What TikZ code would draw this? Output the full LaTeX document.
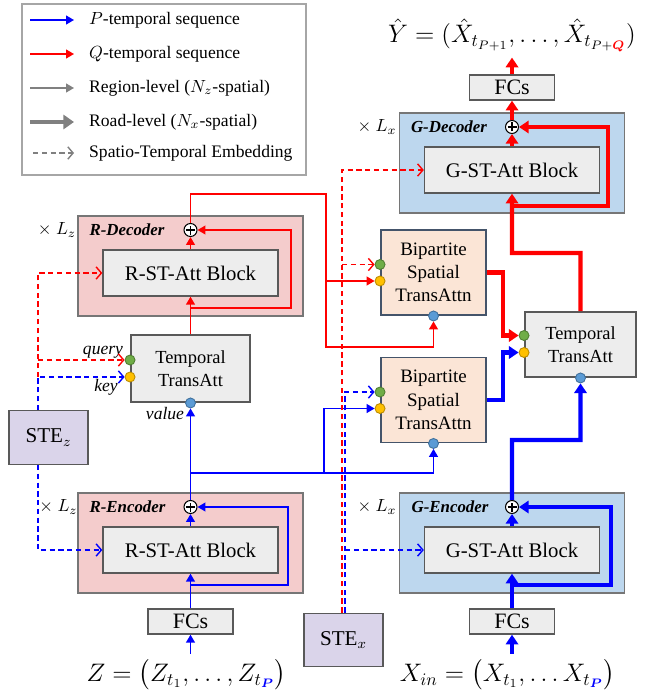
\documentclass[tikz,border=0pt]{standalone}
\usepackage{amsmath}
\usepackage{fontspec}
\setmainfont{Liberation Serif}
\usetikzlibrary{arrows.meta,positioning}

\definecolor{rfill}{RGB}{244,204,204}
\definecolor{gfill}{RGB}{189,215,238}
\definecolor{boxline}{RGB}{118,118,118}
\definecolor{blkfill}{RGB}{237,237,237}
\definecolor{blkline}{RGB}{89,89,89}
\definecolor{bipfill}{RGB}{251,229,214}
\definecolor{bipline}{RGB}{68,84,106}
\definecolor{stefill}{RGB}{218,212,234}
\definecolor{qgreen}{RGB}{112,173,71}
\definecolor{qgreenline}{RGB}{80,126,50}
\definecolor{kyellow}{RGB}{255,192,0}
\definecolor{kyellowline}{RGB}{188,140,0}
\definecolor{vblue}{RGB}{91,155,213}
\definecolor{vblueline}{RGB}{65,113,156}
\definecolor{legline}{RGB}{128,128,128}
\definecolor{legframe}{RGB}{166,166,166}

\begin{document}
\begin{tikzpicture}[
    lvlbox/.style={rectangle, minimum width=4.5cm, minimum height=2cm, draw=boxline, line width=0.8pt},
    rbox/.style={lvlbox, fill=rfill},
    gbox/.style={lvlbox, fill=gfill},
    block/.style={rectangle, minimum width=3.5cm, minimum height=0.92cm, draw=blkline, line width=0.8pt, fill=blkfill, font=\fontsize{11.8}{14}\selectfont},
    fcbox/.style={rectangle, minimum width=1.7cm, minimum height=0.5cm, inner sep=0pt, draw=blkline, line width=0.8pt, fill=blkfill, font=\fontsize{12.5}{14}\selectfont},
    attbox/.style={rectangle, draw=blkline, line width=1.1pt, fill=blkfill, align=center, font=\fontsize{10.5}{13.2}\selectfont},
    bipbox/.style={rectangle, minimum width=2.1cm, minimum height=1.7cm, draw=bipline, line width=1.1pt, fill=bipfill, align=center, font=\fontsize{10.8}{13.2}\selectfont},
    stebox/.style={rectangle, minimum width=1.58cm, minimum height=1.07cm, draw=blkline, line width=0.8pt, fill=stefill, font=\fontsize{12}{14}\selectfont},
    addsym/.style={circle, draw=black, fill=white, line width=0.6pt, minimum size=0.26cm, inner sep=0pt,
        path picture={\draw[line width=0.6pt] ([xshift=-0.09cm]path picture bounding box.center) -- ([xshift=0.09cm]path picture bounding box.center)
        ([yshift=-0.09cm]path picture bounding box.center) -- ([yshift=0.09cm]path picture bounding box.center);}},
    qdot/.style={circle, minimum size=0.2cm, inner sep=0pt, fill=qgreen, draw=qgreenline, line width=0.5pt},
    kdot/.style={circle, minimum size=0.2cm, inner sep=0pt, fill=kyellow, draw=kyellowline, line width=0.5pt},
    vdot/.style={circle, minimum size=0.2cm, inner sep=0pt, fill=vblue, draw=vblueline, line width=0.5pt},
    lvllabel/.style={font=\fontsize{9.6}{11}\selectfont\bfseries\itshape},
    repnote/.style={font=\fontsize{10}{12}\selectfont},
    role/.style={font=\fontsize{10}{12}\selectfont\itshape},
    formula/.style={font=\fontsize{13.6}{16}\selectfont},
    legendbox/.style={rectangle, draw=legframe, line width=0.8pt, minimum width=5.68cm, minimum height=3.42cm},
    legendtext/.style={anchor=west, font=\fontsize{10}{12}\selectfont},
    pthin/.style={draw=blue, line width=0.9pt, -{Triangle[length=4.5pt,width=5pt]}},
    qthin/.style={draw=red, line width=0.9pt, -{Triangle[length=4.5pt,width=5pt]}},
    pthick/.style={draw=blue, line width=2.3pt, -{Triangle[length=5.5pt,width=7pt]}},
    qthick/.style={draw=red, line width=2.3pt, -{Triangle[length=5.5pt,width=7pt]}},
    pste/.style={draw=blue, line width=0.8pt, dash pattern=on 3pt off 2pt, -{Straight Barb[length=3pt,width=7pt]}},
    qste/.style={draw=red, line width=0.8pt, dash pattern=on 3pt off 2pt, -{Straight Barb[length=3pt,width=7pt]}}
]
\useasboundingbox (0,0) rectangle (12.92,-13.92);

% Legend
\node (legend) [legendbox] at (3.28,-1.79) {};
\coordinate (lgPa) at (0.60,-0.40); \coordinate (lgPb) at (1.48,-0.40);
\coordinate (lgQa) at (0.60,-1.08); \coordinate (lgQb) at (1.48,-1.08);
\coordinate (lgRa) at (0.60,-1.76); \coordinate (lgRb) at (1.48,-1.76);
\coordinate (lgXa) at (0.60,-2.44); \coordinate (lgXb) at (1.48,-2.44);
\coordinate (lgEa) at (0.66,-3.06); \coordinate (lgEb) at (1.48,-3.06);
\node (lgPtxt) [legendtext] at (1.66,-0.40) {$P$-temporal sequence};
\node (lgQtxt) [legendtext] at (1.66,-1.08) {$Q$-temporal sequence};
\node (lgRtxt) [legendtext] at (1.66,-1.76) {Region-level ($N_z$-spatial)};
\node (lgXtxt) [legendtext] at (1.66,-2.44) {Road-level ($N_x$-spatial)};
\node (lgEtxt) [legendtext] at (1.66,-3.06) {Spatio-Temporal Embedding};

% Encoders
\node (renc) [rbox] at (3.81,-10.86) {};
\node (rencblk) [block, below of=renc, yshift=0.86cm] {R-ST-Att Block};
\node (rencadd) [addsym, above of=renc, yshift=-0.28cm] {};
\node (renclbl) [lvllabel, left of=rencadd, xshift=-0.26cm] {R-Encoder};
\node (rencrep) [repnote, left of=renclbl, xshift=-0.38cm] {$\times\ L_z$};

\node (genc) [gbox, right of=renc, xshift=5.43cm] {};
\node (gencblk) [block, below of=genc, yshift=0.86cm] {G-ST-Att Block};
\node (gencadd) [addsym, above of=genc, yshift=-0.28cm] {};
\node (genclbl) [lvllabel, left of=gencadd, xshift=-0.24cm] {G-Encoder};
\node (gencrep) [repnote, left of=genclbl, xshift=-0.46cm] {$\times\ L_x$};

\node (fcrl) [fcbox, below of=rencblk, yshift=-0.43cm] {FCs};
\node (fcgl) [fcbox, below of=gencblk, yshift=-0.43cm] {FCs};
\node (zin) [formula, below of=fcrl, yshift=-0.07cm, xshift=-0.08cm] {$Z=\big(Z_{t_1},\ldots,Z_{t_{\textcolor{blue}{\boldsymbol{P}}}}\big)$};
\node (xin) [formula, below of=fcgl, yshift=-0.07cm, xshift=-0.09cm] {$X_{in}=\big(X_{t_1},\ldots X_{t_{\textcolor{blue}{\boldsymbol{P}}}}\big)$};

% Decoders
\node (rdec) [rbox, above of=renc, yshift=4.54cm] {};
\node (rdecblk) [block, below of=rdec, yshift=0.86cm] {R-ST-Att Block};
\node (rdecadd) [addsym, above of=rdec, yshift=-0.28cm] {};
\node (rdeclbl) [lvllabel, left of=rdecadd, xshift=-0.27cm] {R-Decoder};
\node (rdecrep) [repnote, left of=rdeclbl, xshift=-0.40cm] {$\times\ L_z$};

\node (gdec) [gbox, above of=genc, yshift=6.6cm] {};
\node (gdecblk) [block, below of=gdec, yshift=0.86cm] {G-ST-Att Block};
\node (gdecadd) [addsym, above of=gdec, yshift=-0.28cm] {};
\node (gdeclbl) [lvllabel, left of=gdecadd, xshift=-0.26cm] {G-Decoder};
\node (gdecrep) [repnote, left of=gdeclbl, xshift=-0.44cm] {$\times\ L_x$};

\node (fctop) [fcbox, above of=gdecadd, yshift=-0.21cm] {FCs};
\node (yhat) [formula, above of=fctop, yshift=0.05cm] {$\hat{Y}=(\hat{X}_{t_{P+1}},\ldots,\hat{X}_{t_{P+\textcolor{red}{\boldsymbol{Q}}}})$};

% Attention modules
\node (ltatt) [attbox, minimum width=2.38cm, minimum height=1.34cm, below of=rdec, yshift=-1.05cm] {Temporal\\TransAtt};
\node (bip1) [bipbox] at (8.67,-5.45) {Bipartite\\Spatial\\TransAttn};
\node (bip2) [bipbox, below of=bip1, yshift=-1.55cm] {Bipartite\\Spatial\\TransAttn};
\node (rtatt) [attbox, minimum width=2.22cm, minimum height=1.30cm] at (11.61,-6.89) {Temporal\\TransAtt};

% Embeddings
\node (stez) [stebox] at (0.97,-8.75) {STE$_z$};
\node (stex) [stebox] at (6.87,-12.80) {STE$_x$};

% Ports
\node (ltq) [qdot] at ([yshift=0.17cm]ltatt.west) {};
\node (ltk) [kdot] at ([yshift=-0.17cm]ltatt.west) {};
\node (ltv) [vdot] at (ltatt.south) {};
\node (bip1q) [qdot] at ([yshift=0.16cm]bip1.west) {};
\node (bip1k) [kdot] at ([yshift=-0.17cm]bip1.west) {};
\node (bip1v) [vdot] at (bip1.south) {};
\node (bip2q) [qdot] at ([yshift=0.16cm]bip2.west) {};
\node (bip2k) [kdot] at ([yshift=-0.17cm]bip2.west) {};
\node (bip2v) [vdot] at (bip2.south) {};
\node (rtq) [qdot] at ([yshift=0.18cm]rtatt.west) {};
\node (rtk) [kdot] at ([yshift=-0.16cm]rtatt.west) {};
\node (rtv) [vdot] at (rtatt.south) {};

\node (qlbl) [role] at (2.06,-7.05) {query};
\node (klbl) [role] at (2.12,-7.74) {key};
\node (vlbl) [role] at (3.30,-8.28) {value};

% Bends
\coordinate (rdecskip) at (5.82,-6.16);
\coordinate (rdecturn) at (6.52,-3.88);
\coordinate (rdecdown) at (6.52,-6.94);
\coordinate (rencskip) at (5.76,-11.70);
\coordinate (bluemid) at (6.48,-9.46);
\coordinate (gencskip) at (12.22,-11.70);
\coordinate (gencturn) at (10.24,-8.80);
\coordinate (bipjoin) at (10.06,-6.0);
\coordinate (gdecturn) at (10.24,-5.06);
\coordinate (gdecskip) at (12.16,-4.12);
\coordinate (stezup) at ([xshift=-0.21cm]stez.north);
\coordinate (stezdn) at ([xshift=-0.21cm]stez.south);
\coordinate (stexr) at ([xshift=-0.03cm]stex.north);
\coordinate (stexb) at ([xshift=0.03cm]stex.north);

% Arrows
\draw[pthin] (lgPa) -- (lgPb);
\draw[qthin] (lgQa) -- (lgQb);
\draw[draw=legline, line width=0.9pt, -{Triangle[length=4.5pt,width=5pt]}] (lgRa) -- (lgRb);
\draw[draw=legline, line width=2.6pt, -{Triangle[length=6pt,width=8pt]}] (lgXa) -- (lgXb);
\draw[draw=legline, line width=0.8pt, dash pattern=on 3pt off 2pt, -{Straight Barb[length=3pt,width=7pt]}] (lgEa) -- (lgEb);

% R-Encoder
\draw[pthin] (fcrl.south |- zin.north) -- (fcrl);
\draw[pthin] (fcrl) -- (rencblk);
\draw[pthin] (rencskip -| fcrl.north) -- (rencskip) |- (rencadd);
\draw[pthin] (rencblk) -- (rencadd);
\draw[pthin] (rencadd) -- (ltv);
\draw[pthin] (bluemid -| rencadd) -| (bip2v);
\draw[pthin] (bluemid) |- (bip2k);

% R-Decoder
\draw[qthin] (ltatt.north) -- (rdecblk);
\draw[qthin] (rdecskip -| ltatt.north) -- (rdecskip) |- (rdecadd);
\draw[qthin] (rdecblk) -- (rdecadd);
\draw[qthin] (rdecadd) |- (rdecturn) -- (rdecdown) -| (bip1v);
\draw[qthin] (bip1k -| rdecturn) -- (bip1k);

% G-Encoder
\draw[pthick] (fcgl.south |- xin.north) -- (fcgl);
\draw[pthick] (fcgl) -- (gencblk);
\draw[pthick] (gencskip -| fcgl.north) -- (gencskip) |- (gencadd);
\draw[pthick] (gencblk) -- (gencadd);
\draw[pthick] (gencadd) -- (gencturn) -| (rtv);
\draw[pthick] (bip2.east) -- (bip2.east -| bipjoin) |- (rtk);
\draw[qthick] (bip1.east) -- (bip1.east -| bipjoin) |- (rtq);

% G-Decoder
\draw[qthick] (rtatt.north) |- (gdecturn) -- (gdecblk);
\draw[qthick] (gdecskip -| gdecblk.south) -- (gdecskip) |- (gdecadd);
\draw[qthick] (gdecblk) -- (gdecadd);
\draw[qthick] (gdecadd) -- (fctop);
\draw[qthick] (fctop) -- (fctop |- yhat.south);

% Embeddings
\draw[pste] (stezup) |- (ltk);
\draw[qste] (stezup |- ltk) |- (rdecblk.west);
\draw[qste] (stezup |- ltq) -- (ltq);
\draw[pste] (stezdn) |- (rencblk.west);
\draw[qste] (stexr) |- (gdecblk.west);
\draw[qste] (stexr |- bip1q) -- (bip1q);
\draw[pste] (stexb) |- (bip2q);
\draw[pste] (stexb |- gencblk.west) -- (gencblk.west);

\end{tikzpicture}
\end{document}
